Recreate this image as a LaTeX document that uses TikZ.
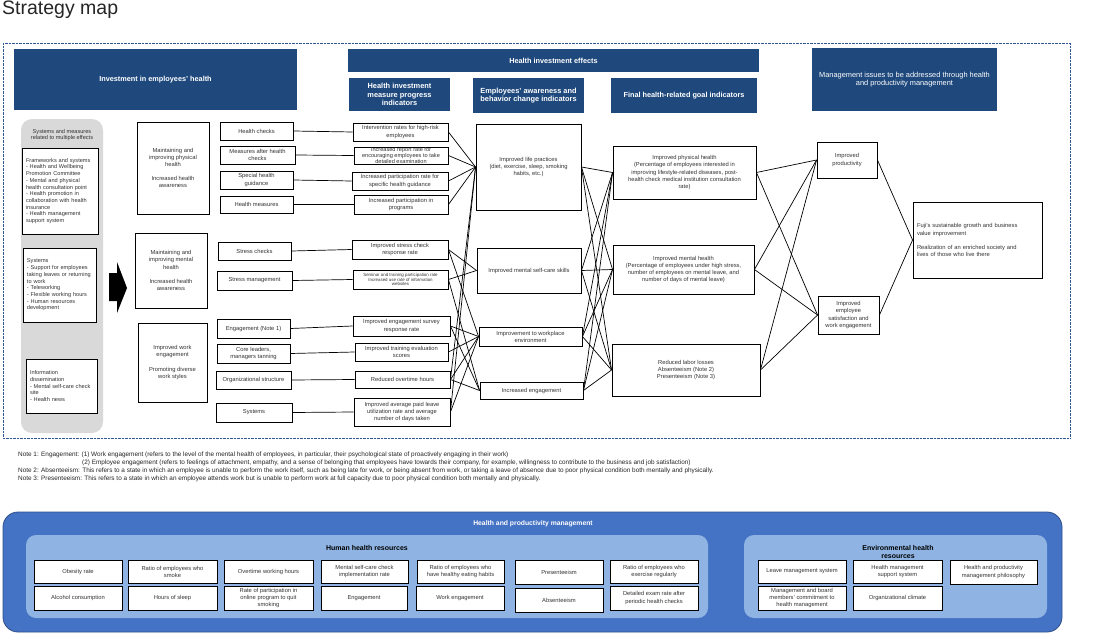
\documentclass[tikz,border=0pt]{standalone}
\usepackage{fontspec}
\setmainfont{Liberation Sans}
\definecolor{hdrblue}{HTML}{1F497D}
\definecolor{hpmblue}{HTML}{4472C4}
\definecolor{hpmlight}{HTML}{8FB4E3}
\definecolor{panelgray}{HTML}{D9D9D9}
\definecolor{framecol}{HTML}{2F5597}
\newcommand\tsz{\fontsize{5.8}{7.1}\selectfont}
\newcommand\ssz{\fontsize{5.6}{6.7}\selectfont}
\newcommand\xsz{\fontsize{4.4}{4.9}\selectfont}
\newcommand\hsz{\fontsize{7.3}{8.3}\selectfont\bfseries}
\newcommand\hszb{\fontsize{7.4}{8.2}\selectfont\bfseries}
\newcommand\hszm{\fontsize{7.4}{8.8}\selectfont}
\newcommand\nsz{\fontsize{6.4}{7}\selectfont}
\newcommand\mybox[7]{%
  \pgfmathsetmacro\mbw{#5-#3}%
  \pgfmathsetmacro\mbh{#6-#4}%
  \pgfmathsetmacro\mbx{(#3+#5)/2}%
  \pgfmathsetmacro\mby{(#4+#6)/2}%
  \node[#1, minimum width=\mbw pt, minimum height=\mbh pt] (#2) at (\mbx,\mby) {#7};}
\tikzset{
  box/.style={draw=black, line width=0.9pt, fill=white, inner sep=1pt, align=center, font=\tsz, text=black!80},
  hdr/.style={fill=hdrblue, draw=none, text=white, font=\hsz, align=center, inner sep=1pt},
  wire/.style={draw=black, line width=0.7pt},
  outerpanel/.style={fill=hpmblue, draw=hpmblue!70!black, line width=0.8pt, rounded corners=15pt, inner sep=0pt},
  innerpanel/.style={fill=hpmlight, draw=none, rounded corners=10pt, inner sep=0pt},
  graypanel/.style={fill=panelgray, draw=none, rounded corners=11pt, inner sep=0pt},
  ptitle/.style={font=\fontsize{7}{8.2}\selectfont\bfseries, align=center, inner sep=0pt},
  note/.style={font=\nsz, anchor=west, inner sep=0pt, text=black!85}
}
\begin{document}
\begin{tikzpicture}[x=1pt,y=-1pt]
\useasboundingbox (0,0) rectangle (1095,642);
\fill[white] (0,0) rectangle (1095,642);

\node[anchor=west, inner sep=0pt, font=\fontsize{19.5}{21}\selectfont, text=black!85] (title) at (2,10) {Strategy map};

% dotted frame
\draw[framecol, line width=0.6pt, dash pattern=on 0.7pt off 0.7pt] (3,43) rectangle (1070,438);

% headers
\mybox{hdr}{h1}{14}{49}{297}{110}{Investment in employees' health}
\mybox{hdr}{h2}{348}{49}{759}{72}{Health investment effects}
\mybox{hdr, font=\hszb}{h3}{349}{78}{450}{111}{Health investment\\measure progress\\indicators}
\mybox{hdr, font=\hszb}{h4}{473}{78}{584}{113}{Employees' awareness and\\behavior change indicators}
\mybox{hdr}{h5}{611}{78}{757}{113}{Final health-related goal indicators}
\mybox{hdr, font=\hszm}{h6}{812}{48}{997}{111}{Management issues to be addressed through health\\and productivity management}

% gray panel
\mybox{graypanel}{gp}{21}{119}{103}{433}{}
\node[font=\ssz, align=center, text=black!80] (gpt) at (62,135) {Systems and measures\\related to multiple effects};
\mybox{box, font=\ssz, align=left, text width=68pt}{s1}{22}{148}{98}{234}{Frameworks and systems\\- Health and Wellbeing\\Promotion Committee\\- Mental and physical\\health consultation point\\- Health promotion in\\collaboration with health\\insurance\\- Health management\\support system}
\mybox{box, font=\ssz, align=left, text width=65pt}{s2}{23}{248}{96}{322}{Systems\\- Support for employees\\taking leaves or returning\\to work\\- Teleworking\\- Flexible working hours\\- Human resources\\development\\[4pt]}
\mybox{box, font=\ssz, align=left, text width=63pt}{s3}{26}{359}{97}{413}{Information\\dissemination\\- Mental self-care check\\site\\- Health news}

% big arrow
\fill[black] (109,273) -- (117,273) -- (117,262) -- (127,288) -- (117,313) -- (117,301) -- (109,301) -- cycle;

% column 2
\mybox{box}{c2a}{137}{122}{209}{214}{Maintaining and\\improving physical\\health\\[7pt]Increased health\\awareness}
\mybox{box}{c2b}{135}{233}{207}{308}{Maintaining and\\improving mental\\health\\[7pt]Increased health\\awareness}
\mybox{box}{c2c}{138}{323}{207}{402}{Improved work\\engagement\\[7pt]Promoting diverse\\work styles}

% column 3 measures
\mybox{box}{m1}{220}{122}{293}{140}{Health checks}
\mybox{box}{m2}{220}{146}{295}{164}{Measures after health\\checks}
\mybox{box}{m3}{220}{171}{293}{189}{Special health\\guidance}
\mybox{box}{m4}{220}{196}{293}{213}{Health measures}
\mybox{box}{m5}{218}{242}{291}{260}{Stress checks}
\mybox{box}{m6}{217}{271}{292}{290}{Stress management}
\mybox{box}{m7}{217}{319}{290}{338}{Engagement (Note 1)}
\mybox{box}{m8}{217}{344}{290}{363}{Core leaders,\\managers tanning}
\mybox{box}{m9}{216}{371}{291}{389}{Organizational structure}
\mybox{box}{m10}{216}{403}{292}{422}{Systems}

% column 4 progress indicators
\mybox{box}{p1}{353}{123}{448}{141}{Intervention rates for high-risk\\employees}
\mybox{box, label={[font=\fontsize{5.6}{6.1}\selectfont, align=center, text=black!80, inner sep=0pt]center:Increased report rate for\\encouraging employees to take\\detailed examination}}{p2}{354}{147}{448}{164}{}
\mybox{box}{p3}{352}{172}{448}{190}{Increased participation rate for\\specific health guidance}
\mybox{box}{p4}{354}{195}{448}{214}{Increased participation in\\programs}
\mybox{box}{p5}{352}{240}{448}{259}{Improved stress check\\response rate}
\mybox{box, label={[font=\xsz, align=center, text=black!80, inner sep=0pt]center:Seminar and training participation rate\\Increased use rate of information\\websites}}{p6}{353}{270}{448}{289}{}
\mybox{box}{p7}{353}{316}{450}{336}{Improved engagement survey\\response rate}
\mybox{box}{p8}{355}{343}{448}{361}{Improved training evaluation\\scores}
\mybox{box}{p9}{355}{371}{450}{388}{Reduced overtime hours}
\mybox{box}{p10}{354}{398}{450}{426}{Improved average paid leave\\utilization rate and average\\number of days taken}

% column 5 behavior
\mybox{box}{b1}{476}{124}{581}{210}{Improved life practices\\(diet, exercise, sleep, smoking\\habits, etc.)}
\mybox{box}{b2}{477}{248}{581}{293}{Improved mental self-care skills}
\mybox{box}{b3}{479}{327}{582}{346}{Improvement to workplace\\environment}
\mybox{box}{b4}{480}{382}{583}{399}{Increased engagement}

% column 6 final
\mybox{box}{f1}{613}{146}{756}{199}{Improved physical health\\(Percentage of employees interested in\\improving lifestyle-related diseases, post-\\health check medical institution consultation\\rate)}
\mybox{box}{f2}{613}{245}{754}{294}{Improved mental health\\(Percentage of employees under high stress,\\number of employees on mental leave, and\\number of days of mental leave)}
\mybox{box}{f3}{612}{344}{760}{396}{Reduced labor losses\\Absenteeism (Note 2)\\Presenteeism (Note 3)}

% column 7
\mybox{box}{g1}{817}{142}{877}{178}{Improved\\productivity}
\mybox{box}{g2}{818}{296}{879}{334}{Improved\\employee\\satisfaction and\\work engagement}

% column 8
\mybox{box, align=left, text width=121pt}{fuji}{913}{202}{1042}{278}{Fuji's sustainable growth and business\\value improvement\\[7pt]Realization of an enriched society and\\lives of those who live there}

% connectors col3 -> col4
\foreach \i in {1,...,10} {\draw[wire] (m\i.east) -- (p\i.west);}
% col4 -> col5
\foreach \i in {1,2,3,4} {\draw[wire] (p\i.east) -- (b1.west);}
\draw[wire] (p5.east) -- (b2.west);
\draw[wire] (p5.east) -- (b3.west);
\draw[wire] (p6.east) -- (b2.west);
\draw[wire] (p6.east) -- (b4.west);
\draw[wire] (p7.east) -- (b3.west);
\draw[wire] (p7.east) -- (b4.west);
\draw[wire] (p8.east) -- (b3.west);
\draw[wire] (p9.east) -- (b3.west);
\draw[wire] (p9.east) -- (b4.west);
\draw[wire] (p9.east) -- (b1.west);
\draw[wire] (p10.east) -- (b1.west);
\draw[wire] (p10.east) -- (b3.west);
% col5 -> col6
\foreach \i in {1,2,3,4} {\foreach \j in {1,2,3} {\draw[wire] (b\i.east) -- (f\j.west);}}
% col6 -> col7
\foreach \j in {1,2,3} {\draw[wire] (f\j.east) -- (g1.west); \draw[wire] (f\j.east) -- (g2.west);}
% col7 -> col8
\draw[wire] (g1.east) -- (fuji.west);
\draw[wire] (g2.east) -- (fuji.west);

% notes
\node[note] (n1) at (18,455) {Note 1: Engagement: (1) Work engagement (refers to the level of the mental health of employees, in particular, their psychological state of proactively engaging in their work)};
\node[note] (n1b) at (82,463) {(2) Employee engagement (refers to feelings of attachment, empathy, and a sense of belonging that employees have towards their company, for example, willingness to contribute to the business and job satisfaction)};
\node[note] (n2) at (18,471) {Note 2: Absenteeism: This refers to a state in which an employee is unable to perform the work itself, such as being late for work, or being absent from work, or taking a leave of absence due to poor physical condition both mentally and physically.};
\node[note] (n3) at (18,479) {Note 3: Presenteeism: This refers to a state in which an employee attends work but is unable to perform work at full capacity due to poor physical condition both mentally and physically.};

% bottom panel
\mybox{outerpanel}{hpm}{3}{512}{1062}{632}{}
\node[ptitle, text=white, font=\fontsize{6.8}{8}\selectfont\bfseries] (hpmt) at (533,524) {Health and productivity management};
\mybox{innerpanel}{hhr}{26}{535}{708}{618}{}
\node[ptitle] (hhrt) at (367,548) {Human health resources};
\mybox{innerpanel}{ehr}{744}{535}{1047}{618}{}
\node[ptitle] (ehrt) at (898,552) {Environmental health\\resources};

\mybox{box}{r1}{34}{560}{122}{583}{Obesity rate}
\mybox{box}{r2}{34}{586}{122}{610}{Alcohol consumption}
\mybox{box}{r3}{128}{560}{217}{583}{Ratio of employees who\\smoke}
\mybox{box}{r4}{128}{586}{217}{610}{Hours of sleep}
\mybox{box}{r5}{224}{560}{313}{583}{Overtime working hours}
\mybox{box, label={[font=\fontsize{5.8}{6.6}\selectfont, align=center, text=black!80, inner sep=0pt]center:Rate of participation in\\online program to quit\\smoking}}{r6}{224}{586}{313}{610}{}
\mybox{box}{r7}{321}{560}{408}{583}{Mental self-care check\\implementation rate}
\mybox{box}{r8}{321}{586}{407}{610}{Engagement}
\mybox{box}{r9}{417}{560}{504}{583}{Ratio of employees who\\have healthy eating habits}
\mybox{box}{r10}{416}{586}{504}{610}{Work engagement}
\mybox{box}{r11}{515}{560}{603}{584}{Presenteeism}
\mybox{box}{r12}{515}{588}{603}{612}{Absenteeism}
\mybox{box}{r13}{610}{560}{698}{583}{Ratio of employees who\\exercise regularly}
\mybox{box}{r14}{610}{586}{698}{610}{Detailed exam rate after\\periodic health checks}

\mybox{box}{e1}{758}{560}{846}{583}{Leave management system}
\mybox{box, label={[font=\fontsize{5.8}{6.8}\selectfont, align=center, text=black!80, inner sep=0pt]center:Management and board\\members' commitment to\\health management}}{e2}{758}{586}{846}{610}{}
\mybox{box}{e3}{853}{560}{942}{583}{Health management\\support system}
\mybox{box}{e4}{853}{586}{942}{610}{Organizational climate}
\mybox{box}{e5}{950}{560}{1037}{584}{Health and productivity\\management philosophy}
\end{tikzpicture}
\end{document}
